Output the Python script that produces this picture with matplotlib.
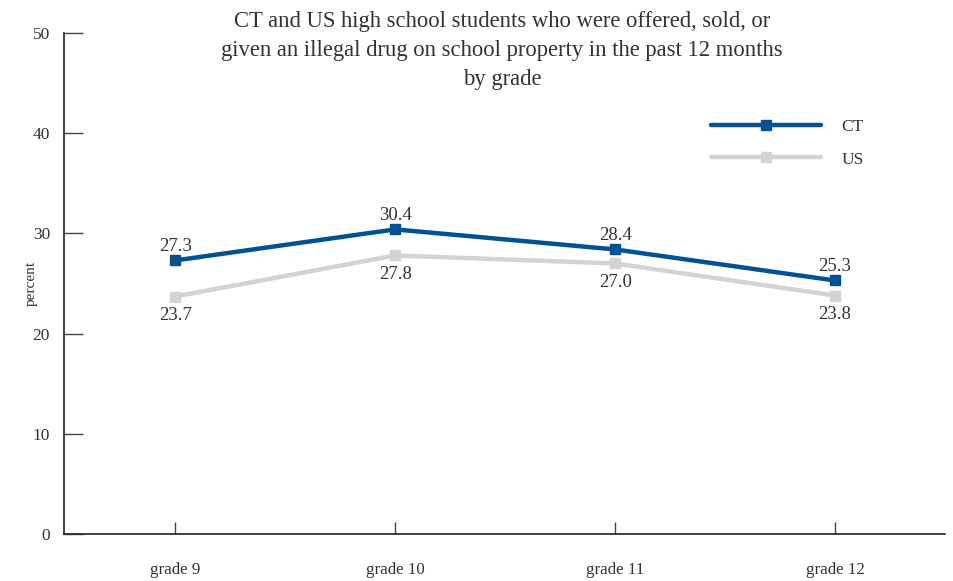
import matplotlib.pyplot as plt
import numpy as np

grades = ['grade 9', 'grade 10', 'grade 11', 'grade 12']
ct_values = [27.3, 30.4, 28.4, 25.3]
us_values = [23.7, 27.8, 27.0, 23.8]
y_ticks = [0, 10, 20, 30, 40, 50]

title = ('CT and US high school students who were offered, sold, or\n'
         'given an illegal drug on school property in the past 12 months\n'
         'by grade')

CT_COLOR = '#005293'
US_COLOR = '#d3d3d5'
TEXT_COLOR = '#333333'


def main():
    plt.rcParams['font.family'] = ['Liberation Serif', 'DejaVu Serif']

    fig = plt.figure(figsize=(9.54, 5.81), dpi=100)
    ax = fig.add_axes([0.0671, 0.0809, 0.9235, 0.8623])

    x = np.arange(len(grades))
    ax.plot(x, us_values, color=US_COLOR, lw=3.2, marker='s', ms=7.5,
            label='US', solid_capstyle='round')
    ax.plot(x, ct_values, color=CT_COLOR, lw=3.2, marker='s', ms=7.5,
            label='CT', solid_capstyle='round')

    for xi, v in zip(x, ct_values):
        ax.annotate(f'{v:.1f}', (xi, v), xytext=(0, 4),
                    textcoords='offset points', ha='center', va='bottom',
                    fontsize=13.5, color=TEXT_COLOR)
    for xi, v in zip(x, us_values):
        ax.annotate(f'{v:.1f}', (xi, v), xytext=(0, -7.5),
                    textcoords='offset points', ha='center', va='top',
                    fontsize=13.5, color=TEXT_COLOR)

    ax.set_xlim(-0.505, 3.5)
    ax.set_ylim(0, 50)
    ax.set_xticks(x)
    ax.set_xticklabels(grades)
    ax.set_yticks(y_ticks)

    for side in ['top', 'right']:
        ax.spines[side].set_visible(False)
    for side in ['left', 'bottom']:
        ax.spines[side].set_color('#222222')
        ax.spines[side].set_linewidth(1.2)

    ax.tick_params(axis='y', direction='in', length=14, width=1,
                   color='#444444', pad=10, labelsize=12.5,
                   labelcolor=TEXT_COLOR)
    ax.tick_params(axis='x', direction='in', length=9, width=1,
                   color='#444444', pad=20, labelsize=12.2,
                   labelcolor=TEXT_COLOR)

    ax.set_ylabel('percent', fontsize=11, color=TEXT_COLOR)
    ax.yaxis.set_label_coords(-0.030, 0.5)

    fig.text(0.526, 0.981, title, fontsize=16.3, color=TEXT_COLOR,
             linespacing=1.5, ha='center', va='top')

    handles, labels = ax.get_legend_handles_labels()
    ax.legend(handles[::-1], labels[::-1], loc='upper left',
              bbox_to_anchor=(0.717, 0.86), frameon=False, fontsize=12.5,
              handlelength=6.3, labelspacing=0.95, handletextpad=1.2,
              labelcolor=TEXT_COLOR)

    fig.savefig('out.png', dpi=100)
    plt.close(fig)


if __name__ == '__main__':
    main()
